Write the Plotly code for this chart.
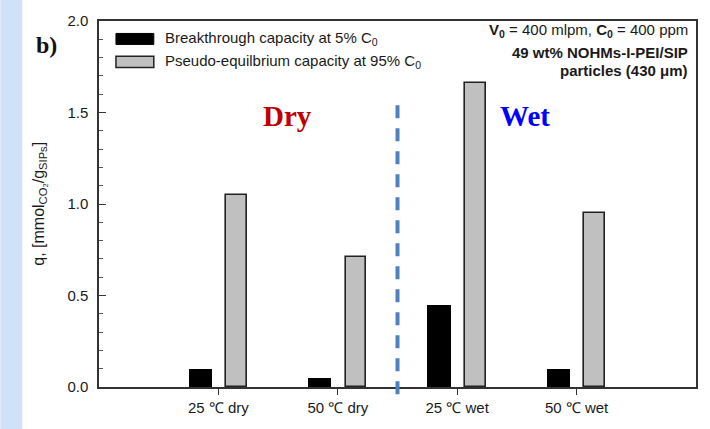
import plotly.graph_objects as go

# ---- data ----
categories = ["25 ℃ dry", "50 ℃ dry", "25 ℃ wet", "50 ℃ wet"]
breakthrough = [0.10, 0.05, 0.45, 0.10]
pseudo_eq = [1.05, 0.71, 1.66, 0.95]
series_names = ["Breakthrough capacity at 5% C<sub>0</sub>",
                "Pseudo-equilbrium capacity at 95% C<sub>0</sub>"]
y_ticks = [0.0, 0.5, 1.0, 1.5, 2.0]

fig = go.Figure()
fig.add_trace(go.Bar(x=categories, y=breakthrough, name=series_names[0],
                     offset=-0.25, width=0.195,
                     marker=dict(color="#000000", line=dict(width=0)),
                     showlegend=False))
fig.add_trace(go.Bar(x=categories, y=pseudo_eq, name=series_names[1],
                     offset=0.065, width=0.175,
                     marker=dict(color="#C0C0C0", line=dict(color="#222222", width=1.6)),
                     showlegend=False))

font_main = "Liberation Sans, Arial, sans-serif"
font_serif = "Liberation Serif, Times New Roman, serif"

fig.update_layout(
    width=710, height=429,
    margin=dict(l=99, r=12, t=13, b=42),
    paper_bgcolor="white", plot_bgcolor="white",
    font=dict(family=font_main, size=14, color="#1a1a1a"),
    bargap=0,
    xaxis=dict(type="category", range=[-1, 4], showline=True, linecolor="#333333",
               linewidth=1.5, mirror=True, ticks="outside", ticklen=6, tickwidth=1.2,
               tickcolor="#333333", showgrid=False, zeroline=False,
               tickfont=dict(size=15, family=font_main)),
    yaxis=dict(range=[0, 2.0], tickvals=y_ticks, ticktext=[f"{v:.1f}" for v in y_ticks],
               showline=True, linecolor="#333333", linewidth=1.5, mirror=True,
               ticks="inside", ticklen=7, tickwidth=1.2, tickcolor="#333333",
               ticklabelstandoff=6,
               minor=dict(dtick=0.1, ticks="inside", ticklen=4, tickcolor="#555555", tickwidth=1),
               showgrid=False, zeroline=False,
               tickfont=dict(size=15, family=font_main)),
)

shapes = []
# left decorative band
shapes.append(dict(type="rect", xref="paper", yref="paper",
                   x0=(0 - 99) / 599, x1=(22 - 99) / 599, y0=-0.2, y1=1.1,
                   fillcolor="#CFE2FA", line=dict(width=0), layer="below"))
# dashed divider
shapes.append(dict(type="line", xref="x", yref="paper", x0=1.5, x1=1.5, y0=-0.02, y1=0.79,
                   line=dict(color="#4F81BD", width=4, dash="13px,10px")))
# legend boxes
shapes.append(dict(type="rect", xref="paper", yref="paper", x0=0.0284, x1=0.0918,
                   y0=0.936, y1=0.966, fillcolor="#000000", line=dict(color="#000000", width=1)))
shapes.append(dict(type="rect", xref="paper", yref="paper", x0=0.0284, x1=0.0918,
                   y0=0.873, y1=0.904, fillcolor="#C0C0C0", line=dict(color="#222222", width=1.5)))
fig.update_layout(shapes=shapes)

ann = []
ann.append(dict(xref="paper", yref="paper", x=0.1068, y=0.951, xanchor="left", yanchor="middle",
                text=series_names[0], showarrow=False, font=dict(size=15, family=font_main)))
ann.append(dict(xref="paper", yref="paper", x=0.1068, y=0.888, xanchor="left", yanchor="middle",
                text=series_names[1], showarrow=False, font=dict(size=15, family=font_main)))
ann.append(dict(xref="paper", yref="paper", x=0.99, y=(386.7 - 22.7) / 373.4, xanchor="right",
                yanchor="middle",
                text="<b>V</b><sub><b>0</b></sub> = 400 mlpm, <b>C</b><sub><b>0</b></sub> = 400 ppm",
                showarrow=False, font=dict(size=15, family=font_main)))
ann.append(dict(xref="paper", yref="paper", x=0.99, y=(386.7 - 45) / 373.4, xanchor="right",
                yanchor="middle", text="<b>49 wt% NOHMs-I-PEI/SIP</b>",
                showarrow=False, font=dict(size=15, family=font_main)))
ann.append(dict(xref="paper", yref="paper", x=0.99, y=(386.7 - 64) / 373.4, xanchor="right",
                yanchor="middle", text="<b>particles (430 μm)</b>",
                showarrow=False, font=dict(size=15, family=font_main)))
ann.append(dict(xref="x", yref="y", x=0.578, y=1.48, text="<b>Dry</b>", showarrow=False,
                font=dict(size=29, family=font_serif, color="#C00000")))
ann.append(dict(xref="x", yref="y", x=2.564, y=1.48, text="<b>Wet</b>", showarrow=False,
                font=dict(size=29, family=font_serif, color="#0000FF")))
ann.append(dict(xref="paper", yref="paper", x=(34 - 99) / 599, y=(386.7 - 22) / 373.4,
                text="<b>b)</b>", showarrow=False,
                font=dict(size=24, family=font_serif, color="#111111")))
ann.append(dict(xref="paper", yref="paper", x=(27 - 99) / 599, y=0.5, textangle=-90,
                text="q, [mmol<sub>CO₂</sub>/g<sub>SIPs</sub>]", showarrow=False,
                font=dict(size=16, family=font_main, color="#1a1a1a")))
fig.update_layout(annotations=ann)

fig.write_html("out.html", config={"displayModeBar": False},
               post_script="document.body.style.margin='0';document.body.style.padding='0';")
